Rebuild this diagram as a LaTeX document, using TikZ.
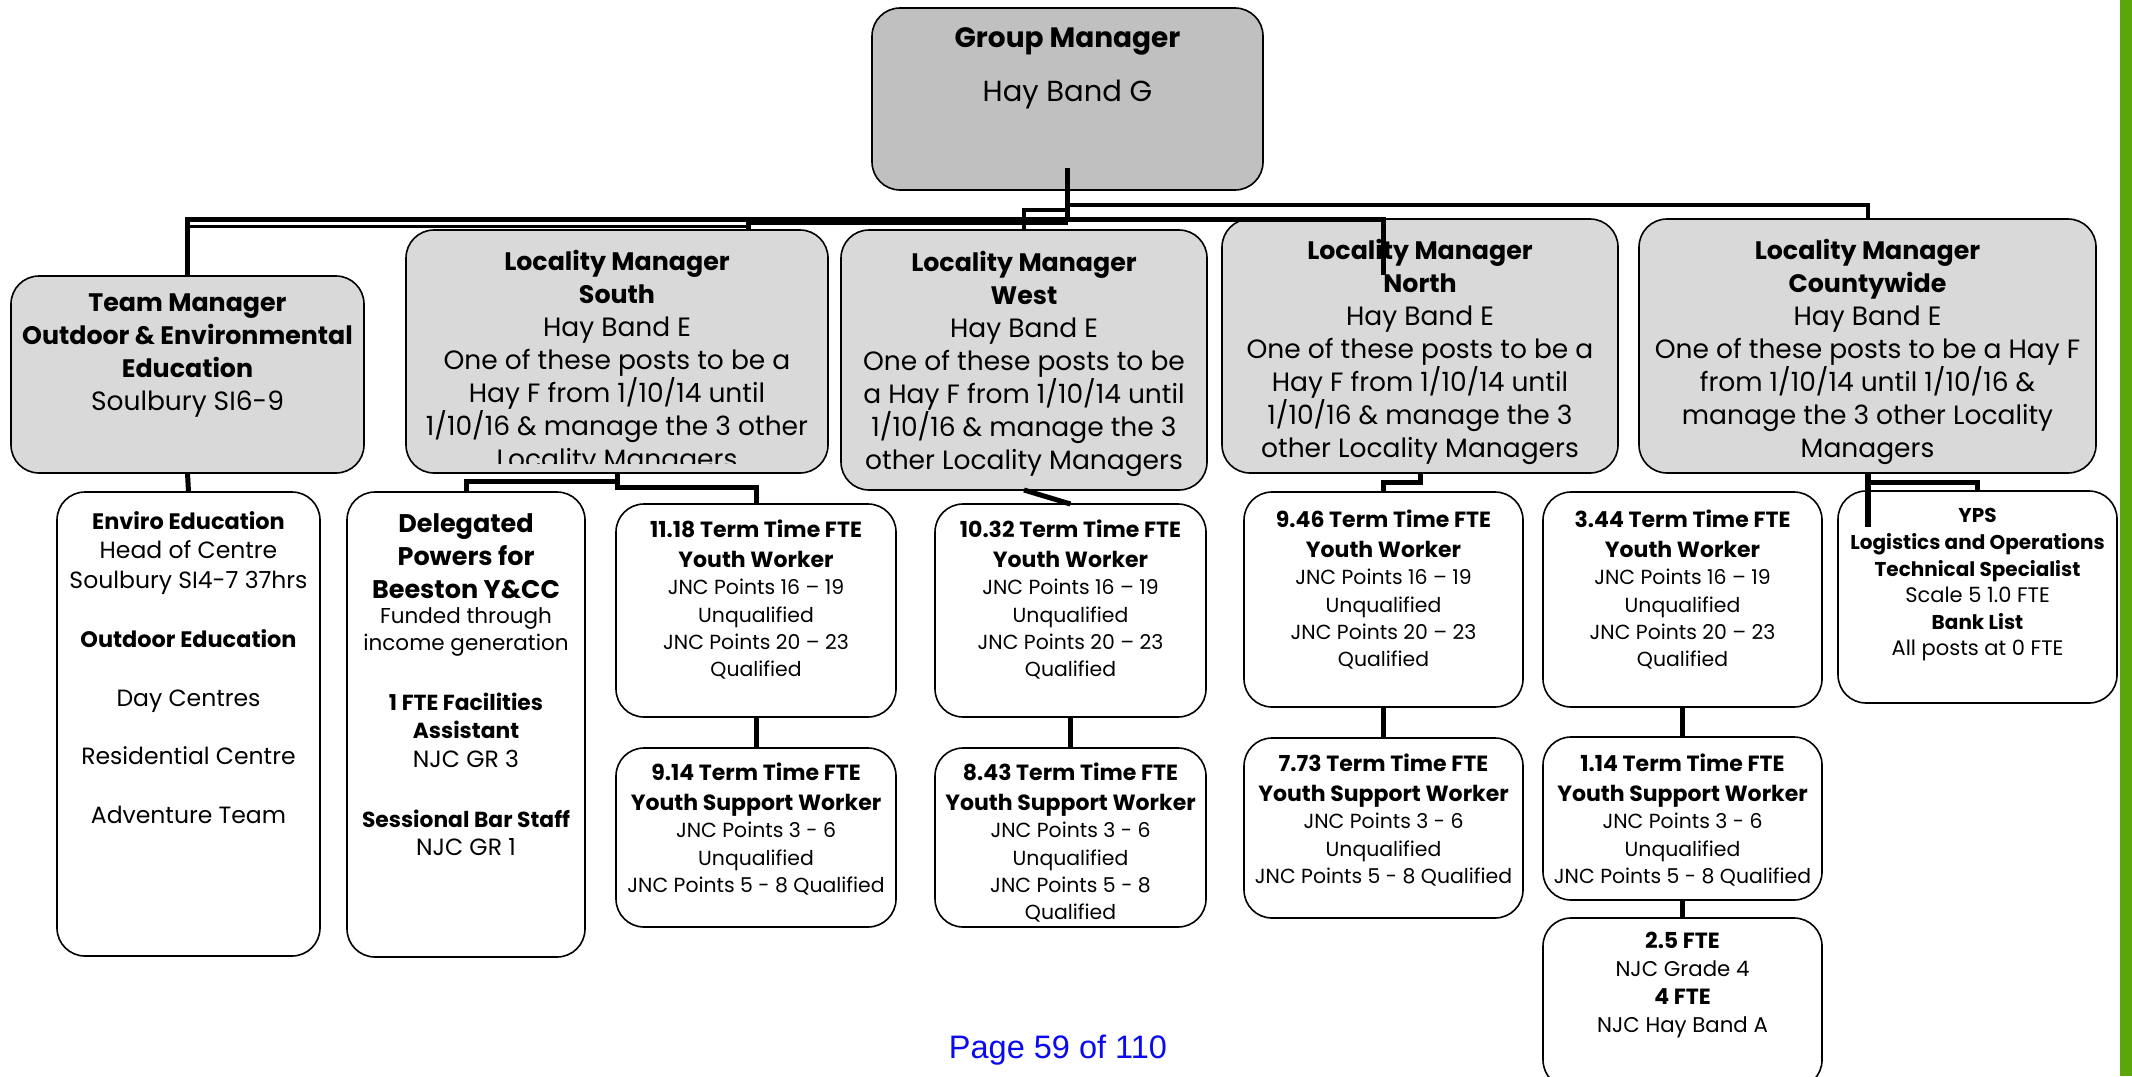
\documentclass[tikz,border=0pt]{standalone}
\usepackage{fontspec}
\setmainfont{Poppins}
\newfontfamily\pagefont{Liberation Sans}
\usetikzlibrary{calc}

\definecolor{topgray}{RGB}{192,192,192}
\definecolor{mgrgray}{RGB}{217,217,217}
\definecolor{bargreen}{RGB}{92,166,10}
\definecolor{pageblue}{RGB}{10,10,240}

% font sizes
\newcommand\fG{\fontsize{29}{33}\selectfont}
\newcommand\fL{\fontsize{26.5}{33}\selectfont}
\newcommand\fE{\fontsize{23.5}{29.5}\selectfont}
\newcommand\fS{\fontsize{20.4}{27.3}\selectfont}
\newcommand\grouphead[1]{{\fontsize{28}{33}\selectfont\bfseries #1}}
\newcommand\mgrhead[1]{{\fontsize{25.3}{33}\selectfont\bfseries #1}}
\newcommand\envhead[1]{{\fontsize{22.4}{29.5}\selectfont\bfseries #1}}
\newcommand\boxhead[1]{{\fontsize{22}{27.3}\selectfont\bfseries #1}}

\tikzset{
  box/.style={draw=black, line width=1.6pt, rounded corners=28pt, inner sep=0pt, outer sep=0pt},
  topbox/.style={box, fill=topgray},
  mgrbox/.style={box, fill=mgrgray},
  postbox/.style={box, fill=white},
  txt/.style={anchor=north, align=center, inner sep=0pt, text=black},
  link/.style={draw=black, line width=5pt, line join=miter},
  linkthin/.style={draw=black, line width=3.5pt, line join=miter},
}

% box from its corners: name, style, x1, y1, x2, y2
\newcommand\orgbox[6]{%
  \node[#2, minimum width={(#5)-(#3)}, minimum height={(#6)-(#4)}]
    (#1) at ({((#3)+(#5))/2},{((#4)+(#6))/2}) {};}

\begin{document}
\begin{tikzpicture}[x=1pt,y=-1pt]
\path[use as bounding box] (0,0) rectangle (2132,1076);
\clip (0,0) rectangle (2132,1076);
\fill[white] (0,0) rectangle (2132,1076);

% ---------- boxes ----------
\orgbox{group}{topbox}{872}{8}{1263}{190}
\orgbox{team}{mgrbox}{11}{276}{364}{473}
\orgbox{south}{mgrbox}{406}{230}{828}{473}
\orgbox{west}{mgrbox}{841}{230}{1207}{490}
\orgbox{north}{mgrbox}{1222}{219}{1618}{473}
\orgbox{county}{mgrbox}{1639}{219}{2096}{473}

\orgbox{enviro}{postbox}{57}{492}{320}{956}
\orgbox{deleg}{postbox}{347}{492}{585}{957}
\orgbox{ywS}{postbox}{616}{504}{896}{717}
\orgbox{yswS}{postbox}{616}{748}{896}{927}
\orgbox{ywW}{postbox}{935}{504}{1206}{717}
\orgbox{yswW}{postbox}{935}{748}{1206}{927}
\orgbox{ywN}{postbox}{1244}{492}{1523}{707}
\orgbox{yswN}{postbox}{1244}{738}{1523}{918}
\orgbox{ywC}{postbox}{1543}{492}{1822}{707}
\orgbox{yswC}{postbox}{1543}{737}{1822}{900}
\orgbox{ftes}{postbox}{1543}{918}{1822}{1088}
\orgbox{yps}{postbox}{1838}{491}{2117}{703}

% ---------- texts ----------
\node[txt, font=\fG] (group-t) at (group.north |- 0,27)
  {\grouphead{Group Manager}\\[21pt]Hay Band G};
\node[txt, font=\fL] (team-t) at (team.north |- 0,294)
  {\mgrhead{Team Manager}\\\mgrhead{Outdoor \& Environmental}\\\mgrhead{Education}\\Soulbury SI6-9};
\begin{scope}
  \clip (406,230) rectangle (828,463);
  \node[txt, font=\fL] (south-t) at (south.north |- 0,250)
    {\mgrhead{Locality Manager}\\\mgrhead{South}\\Hay Band E\\One of these posts to be a\\Hay F from 1/10/14 until\\1/10/16 \& manage the 3 other\\Locality Managers};
\end{scope}
\node[txt, font=\fL] (west-t) at (west.north |- 0,251)
  {\mgrhead{Locality Manager}\\\mgrhead{West}\\Hay Band E\\One of these posts to be\\a Hay F from 1/10/14 until\\1/10/16 \& manage the 3\\other Locality Managers};
\node[txt, font=\fL] (north-t) at (north.north |- 0,239)
  {\mgrhead{Locality Manager}\\\mgrhead{North}\\Hay Band E\\One of these posts to be a\\Hay F from 1/10/14 until\\1/10/16 \& manage the 3\\other Locality Managers};
\node[txt, font=\fL] (county-t) at (county.north |- 0,239)
  {\mgrhead{Locality Manager}\\\mgrhead{Countywide}\\Hay Band E\\One of these posts to be a Hay F\\from 1/10/14 until 1/10/16 \&\\manage the 3 other Locality\\Managers};

\node[txt, font=\fE] (enviro-t) at (enviro.north |- 0,511)
  {\envhead{Enviro Education}\\Head of Centre\\Soulbury SI4-7 37hrs\\[29.5pt]\envhead{Outdoor Education}\\[29.5pt]Day Centres\\[28.5pt]Residential Centre\\[29.5pt]Adventure Team};

\node[txt, font=\fontsize{25.5}{33}\selectfont\bfseries] (deleg-a) at (deleg.north |- 0,513)
  {Delegated\\Powers for\\Beeston Y\&CC};
\node[txt, font=\fontsize{21.5}{27}\selectfont] (deleg-b) at (deleg.north |- 0,607)
  {Funded through\\income generation};
\node[txt, font=\fontsize{23.5}{28.5}\selectfont] (deleg-c) at (deleg.north |- 0,692.5)
  {{\fontsize{21.8}{28.5}\selectfont\bfseries 1 FTE Facilities}\\{\fontsize{21.8}{28.5}\selectfont\bfseries Assistant}\\NJC GR 3};
\node[txt, font=\fontsize{23.5}{28.5}\selectfont] (deleg-d) at (deleg.north |- 0,809.5)
  {{\fontsize{21.8}{28.5}\selectfont\bfseries Sessional Bar Staff}\\NJC GR 1};

\node[txt, font=\fS] (ywS-t) at (ywS.north |- 0,520)
  {\boxhead{11.18 Term Time FTE}\\[2.5pt]\boxhead{Youth Worker}\\JNC Points 16 -- 19\\Unqualified\\JNC Points 20 -- 23\\Qualified};
\node[txt, font=\fS] (yswS-t) at (yswS.north |- 0,763)
  {\boxhead{9.14 Term Time FTE}\\[2.5pt]\boxhead{Youth Support Worker}\\JNC Points 3 - 6\\Unqualified\\JNC Points 5 - 8 Qualified};
\node[txt, font=\fS] (ywW-t) at (ywW.north |- 0,520)
  {\boxhead{10.32 Term Time FTE}\\[2.5pt]\boxhead{Youth Worker}\\JNC Points 16 -- 19\\Unqualified\\JNC Points 20 -- 23\\Qualified};
\node[txt, font=\fS] (yswW-t) at (yswW.north |- 0,763)
  {\boxhead{8.43 Term Time FTE}\\[2.5pt]\boxhead{Youth Support Worker}\\JNC Points 3 - 6\\Unqualified\\JNC Points 5 - 8\\Qualified};
\node[txt, font=\fS] (ywN-t) at (ywN.north |- 0,510)
  {\boxhead{9.46 Term Time FTE}\\[2.5pt]\boxhead{Youth Worker}\\JNC Points 16 -- 19\\Unqualified\\JNC Points 20 -- 23\\Qualified};
\node[txt, font=\fS] (yswN-t) at (yswN.north |- 0,754)
  {\boxhead{7.73 Term Time FTE}\\[2.5pt]\boxhead{Youth Support Worker}\\JNC Points 3 - 6\\Unqualified\\JNC Points 5 - 8 Qualified};
\node[txt, font=\fS] (ywC-t) at (ywC.north |- 0,510)
  {\boxhead{3.44 Term Time FTE}\\[2.5pt]\boxhead{Youth Worker}\\JNC Points 16 -- 19\\Unqualified\\JNC Points 20 -- 23\\Qualified};
\node[txt, font=\fS] (yswC-t) at (yswC.north |- 0,754)
  {\boxhead{1.14 Term Time FTE}\\[2.5pt]\boxhead{Youth Support Worker}\\JNC Points 3 - 6\\Unqualified\\JNC Points 5 - 8 Qualified};
\node[txt, font=\fontsize{21.3}{28}\selectfont] (ftes-t) at (ftes.north |- 0,932)
  {{\fontsize{22}{28}\selectfont\bfseries 2.5 FTE}\\NJC Grade 4\\{\fontsize{22}{28}\selectfont\bfseries 4 FTE}\\NJC Hay Band A};
\node[txt, font=\fontsize{21}{26.6}\selectfont] (yps-t) at (yps.north |- 0,508.5)
  {{\fontsize{20}{26.6}\selectfont\bfseries YPS}\\{\fontsize{20}{26.6}\selectfont\bfseries Logistics and Operations}\\{\fontsize{20}{26.6}\selectfont\bfseries Technical Specialist}\\Scale 5 1.0 FTE\\{\fontsize{20}{26.6}\selectfont\bfseries Bank List}\\All posts at 0 FTE};

% ---------- connectors ----------
\coordinate (ntail) at (1383,275);
\coordinate (stap) at ([xshift=131pt]south.north);
\coordinate (ctail) at (county.south |- 0,527);

\draw[link] ([yshift=22pt]group.south) -- (group.south |- 0,222);
\draw[link] (team.north) |- (ntail |- 0,219.5) -- (ntail);
\draw[linkthin] (team.north |- 0,226.5) -| (stap);
\draw[link] (stap |- 0,219.5) -- (stap);
\draw[draw=black, line width=4pt] (stap |- 0,223) -- (group.south |- 0,223);
\draw[linkthin] (west.north) |- (group.south |- 0,210);
\draw[link, line width=4pt] (group.south |- 0,205) -| (county.north);

\draw[link] (team.south) -- (enviro.north);
\draw[link] (south.south) -- ++(0,8) -| (deleg.north);
\draw[link] ([yshift=-8pt]south.south) -- ++(0,6) -| (ywS.north);
\draw[link] (ywS.south) -- (yswS.north);
\draw[link] (west.south) -- (ywW.north);
\draw[link] (ywW.south) -- (yswW.north);
\draw[link] (north.south) -- ++(0,9) -| (ywN.north);
\draw[link] (ywN.south) -- (yswN.north);
\draw[link, line width=6pt] (county.south) -- (ctail);
\draw[link] (county.south |- 0,482.5) -| (yps.north);
\draw[link] (ywC.south) -- (yswC.north);
\draw[link] (yswC.south) -- (ftes.north);

% ---------- page footer and side bar ----------
\node[font=\pagefont\fontsize{32.5}{36}\selectfont, text=pageblue, inner sep=0pt] (pageno) at (1058,1050) {Page 59 of 110};
\fill[bargreen] (2120,0) rectangle (2132,1076);
\end{tikzpicture}
\end{document}
